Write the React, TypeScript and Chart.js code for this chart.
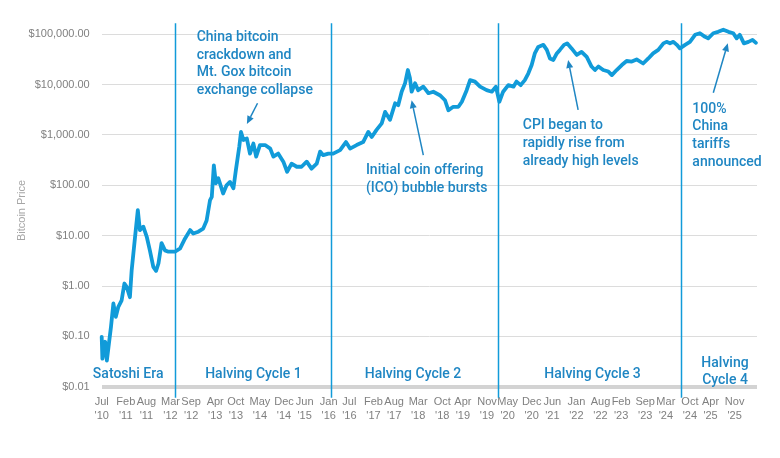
import { useEffect, useRef } from 'react';
import { Chart, registerables } from 'chart.js';

Chart.register(...registerables);

// Months elapsed since July 2010 for each sampled closing price.
const monthOffsets = [
  0, 0.2, 1.0, 1.5, 2.1, 2.7, 3.4, 4.1, 4.8, 5.8, 6.6, 7.3, 8.2, 8.7, 9.7, 10.5, 11.1, 12.1, 13.1, 14.0,
  15.0, 15.8, 16.5, 17.4, 18.4, 19.4, 21.3, 22.8, 24.2, 25.7, 26.6, 28.1, 29.5, 30.5, 31.0, 31.5, 32.0, 32.6,
  33.2, 33.9, 35.3, 36.3, 37.3, 38.3, 39.0, 40.0, 40.5, 41.2, 42.2, 43.1, 44.1, 44.9, 46.0, 47.5, 49.0, 49.9,
  51.3, 52.8, 53.9, 55.2, 56.7, 58.1, 59.6, 61.0, 62.5, 63.5, 64.4, 65.9, 67.3, 69.3, 71.0, 72.2, 74.1, 76.0,
  77.5, 78.5, 79.9, 81.4, 82.4, 83.8, 85.3, 86.2, 87.2, 88.2, 89.0, 89.6, 90.1, 91.1, 92.0, 93.5, 95.0, 96.4,
  98.3, 99.8, 100.8, 102.2, 103.7, 104.7, 106.1, 107.1, 108.5, 110.0, 111.9, 113.4, 114.6, 115.6, 116.7, 118.2,
  119.7, 120.6, 121.8, 123.0, 124.0, 125.0, 125.9, 126.9, 128.4, 129.4, 130.3, 131.3, 132.3, 133.2, 134.4,
  135.3, 136.6, 138.1, 139.5, 141.0, 142.4, 143.4, 144.4, 145.8, 147.3, 148.3, 149.7, 151.2, 152.6, 154.1,
  155.5, 157.4, 158.9, 160.3, 161.8, 163.3, 164.2, 165.2, 166.2, 167.2, 168.1, 169.6, 171.0, 172.5, 173.9,
  175.4, 176.3, 177.8, 179.2, 180.7, 182.2, 183.6, 184.6, 185.5, 186.7, 188.0, 189.2, 190.2,
];

// Bitcoin price in US dollars at each sampled month.
const pricesUsd = [
  0.098, 0.036, 0.078, 0.033, 0.072, 0.155, 0.45, 0.245, 0.38, 0.52, 1.12, 0.95, 0.6, 2.0, 9.5, 32, 12.9, 15.1, 9.5, 5.1,
  2.4, 2.0, 2.8, 7.1, 5.1, 4.8, 4.8, 5.6, 8.7, 12.9, 11.0, 12.0, 13.8, 20, 32, 51, 59, 250,
  110, 138, 69, 100, 117, 87, 200, 590, 1150, 794, 851, 427, 676, 372, 631, 631, 537, 372,
  427, 295, 186, 269, 234, 234, 295, 214, 269, 468, 398, 427, 427, 501, 724, 537, 631, 724,
  1150, 912, 1260, 1700, 2880, 2000, 4270, 3890, 7240, 10700, 19500, 13500, 7240, 10700, 7760, 9120, 6760, 7240,
  6170, 4900, 3090, 3630, 3630, 4570, 7760, 12300, 11500, 9120, 7760, 7240, 9120, 4570, 7240, 9770,
  9120, 11500, 9770, 12300, 16600, 24500, 41700, 56200, 61700, 49000, 33100, 30900, 41700, 49000, 61700,
  66100, 52500, 38900, 44700, 35500, 22900, 19500, 22900, 19500, 18200, 15500, 19500, 24500, 29500, 28800,
  31600, 26300, 33100, 41700, 49000, 66100, 70800, 66100, 70800, 61700, 52500, 61700, 70800, 97700, 105000,
  89100, 83200, 105000, 112000, 123000, 112000, 105000, 83200, 97700, 66100, 70800, 77600, 67600,
];

// Date axis labels and where they fall, in months since July 2010.
const tickMonths = [
  0, 7, 13, 20, 26, 33, 39, 46, 53, 59, 66, 72, 79, 85, 92, 99, 105, 112, 118, 125, 131, 138, 145, 151, 158,
  164, 171, 177, 184,
];
const tickLabels = [
  "Jul '10", "Feb '11", "Aug '11", "Mar '12", "Sep '12", "Apr '13", "Oct '13", "May '14", "Dec '14", "Jun '15",
  "Jan '16", "Jul '16", "Feb '17", "Aug '17", "Mar '18", "Oct '18", "Apr '19", "Nov '19", "May '20", "Dec '20",
  "Jun '21", "Jan '22", "Aug '22", "Feb '23", "Sep '23", "Mar '24", "Oct '24", "Apr '25", "Nov '25",
];
const priceTicks = [0.01, 0.1, 1, 10, 100, 1000, 10000, 100000];
const axisEndMonth = 190.5;

// Halving-cycle boundaries and the era captions along the bottom.
const eraBoundaryMonths = [21.3, 66.7, 115.1, 168.4];
const eraNames = ['Satoshi Era', 'Halving Cycle 1', 'Halving Cycle 2', 'Halving Cycle 3', 'Halving\nCycle 4'];
const eraLabelMonths = [7.7, 44.1, 90.5, 142.7, 181.2];
const eraLabelPrices = [0.0178, 0.0178, 0.0178, 0.0178, 0.0295];

// Event call-outs: caption anchor (top-left) and arrow from/to, in chart values.
const eventTexts = [
  'China bitcoin\ncrackdown and\nMt. Gox bitcoin\nexchange collapse',
  'Initial coin offering\n(ICO) bubble bursts',
  'CPI began to\nrapidly rise from\nalready high levels',
  '100%\nChina\ntariffs\nannounced',
];
const eventTextMonths = [27.6, 76.8, 122.4, 171.7];
const eventTextPrices = [87000, 195, 1510, 3240];
const arrowFromMonths = [45.3, 93.5, 138.5, 177.8];
const arrowFromPrices = [4270, 398, 3160, 6920];
const arrowToMonths = [42.2, 90.1, 135.6, 182.0];
const arrowToPrices = [1660, 4900, 30900, 66100];

const LINE_BLUE = '#119bd9';
const TEXT_BLUE = '#1f86c3';
const CALLOUT_FONT = '500 14px Roboto, "Open Sans", sans-serif';
const CALLOUT_LINE_HEIGHT = 17.7;

const annotationPlugin = {
  id: 'cycleAnnotations',
  beforeDatasetsDraw(chart: any) {
    const { ctx, chartArea, scales } = chart;
    const x = scales.x;
    ctx.save();
    ctx.strokeStyle = LINE_BLUE;
    ctx.lineWidth = 1.5;
    eraBoundaryMonths.forEach((m) => {
      const px = Math.round(x.getPixelForValue(m)) + 0.5;
      ctx.beginPath();
      ctx.moveTo(px, chartArea.top - 11);
      ctx.lineTo(px, chartArea.bottom + 11);
      ctx.stroke();
    });
    ctx.restore();
  },
  afterDatasetsDraw(chart: any) {
    const { ctx, scales } = chart;
    const x = scales.x;
    const y = scales.y;
    ctx.save();
    ctx.font = CALLOUT_FONT;
    ctx.fillStyle = TEXT_BLUE;
    ctx.textBaseline = 'middle';

    // era captions
    ctx.textAlign = 'center';
    eraNames.forEach((name, i) => {
      const cx = x.getPixelForValue(eraLabelMonths[i]);
      const cy = y.getPixelForValue(eraLabelPrices[i]);
      name.split('\n').forEach((line, j) => {
        ctx.fillText(line, cx, cy + j * CALLOUT_LINE_HEIGHT);
      });
    });

    // event captions
    ctx.textAlign = 'left';
    eventTexts.forEach((text, i) => {
      const tx = x.getPixelForValue(eventTextMonths[i]);
      const ty = y.getPixelForValue(eventTextPrices[i]);
      text.split('\n').forEach((line, j) => {
        ctx.fillText(line, tx, ty + j * CALLOUT_LINE_HEIGHT);
      });
    });

    // arrows
    ctx.strokeStyle = TEXT_BLUE;
    ctx.lineWidth = 1.5;
    eventTexts.forEach((_, i) => {
      const x0 = x.getPixelForValue(arrowFromMonths[i]);
      const y0 = y.getPixelForValue(arrowFromPrices[i]);
      const x1 = x.getPixelForValue(arrowToMonths[i]);
      const y1 = y.getPixelForValue(arrowToPrices[i]);
      const ang = Math.atan2(y1 - y0, x1 - x0);
      const headLen = 8;
      const headHalf = 3.5;
      const bx = x1 - headLen * Math.cos(ang);
      const by = y1 - headLen * Math.sin(ang);
      ctx.beginPath();
      ctx.moveTo(x0, y0);
      ctx.lineTo(bx, by);
      ctx.stroke();
      ctx.beginPath();
      ctx.moveTo(x1, y1);
      ctx.lineTo(bx + headHalf * Math.sin(ang), by - headHalf * Math.cos(ang));
      ctx.lineTo(bx - headHalf * Math.sin(ang), by + headHalf * Math.cos(ang));
      ctx.closePath();
      ctx.fill();
    });
    ctx.restore();
  },
};

function formatPrice(v: number) {
  return '$' + v.toLocaleString('en-US', { minimumFractionDigits: 2, maximumFractionDigits: 2 });
}

export default function App() {
  const canvasRef = useRef<HTMLCanvasElement | null>(null);

  useEffect(() => {
    if (!canvasRef.current) return;
    const points = monthOffsets.map((m, i) => ({ x: m, y: pricesUsd[i] }));
    const chart = new Chart(canvasRef.current, {
      type: 'line',
      data: {
        datasets: [
          {
            label: 'Bitcoin Price',
            data: points,
            borderColor: LINE_BLUE,
            borderWidth: 3.8,
            pointRadius: 0,
            tension: 0,
            borderJoinStyle: 'round',
            borderCapStyle: 'round',
            clip: false,
          },
        ],
      },
      options: {
        animation: false,
        responsive: false,
        devicePixelRatio: 1,
        events: [],
        layout: { padding: { top: 34.3, right: 23, left: 0, bottom: 0 } },
        plugins: { legend: { display: false }, tooltip: { enabled: false } },
        scales: {
          x: {
            type: 'linear',
            min: 0,
            max: axisEndMonth,
            grid: { display: false },
            border: { display: false },
            afterBuildTicks: (scale: any) => {
              scale.ticks = tickMonths.map((v) => ({ value: v }));
            },
            afterFit: (scale: any) => {
              scale.height = 71.3;
            },
            ticks: {
              autoSkip: false,
              maxRotation: 0,
              minRotation: 0,
              padding: 1,
              color: '#808080',
              font: { family: '"Liberation Sans", Arial, sans-serif', size: 11, lineHeight: 1.2 },
              callback: (value: any) => {
                const idx = tickMonths.indexOf(Number(value));
                return idx >= 0 ? tickLabels[idx].split(' ') : '';
              },
            },
          },
          y: {
            type: 'logarithmic',
            min: 0.01,
            max: 100000,
            border: { display: false },
            grid: {
              drawTicks: false,
              color: (c: any) => (c.tick && c.tick.value === 0.01 ? '#d3d3d3' : '#dcdcdc'),
              lineWidth: (c: any) => (c.tick && c.tick.value === 0.01 ? 4 : 1),
            },
            afterBuildTicks: (scale: any) => {
              scale.ticks = priceTicks.map((v) => ({ value: v }));
            },
            afterFit: (scale: any) => {
              scale.width = 101.7;
            },
            ticks: {
              padding: 12,
              color: '#808080',
              font: { family: '"Liberation Sans", Arial, sans-serif', size: 11 },
              callback: (value: any) => formatPrice(Number(value)),
            },
            title: {
              display: true,
              text: 'Bitcoin Price',
              color: '#a6a6a6',
              padding: { top: 15, bottom: 0 },
              font: { family: '"Liberation Sans", Arial, sans-serif', size: 11 },
            },
          },
        },
      },
      plugins: [annotationPlugin],
    });
    return () => chart.destroy();
  }, []);

  return (
    <div style={{ position: 'absolute', left: 0, top: 0, width: 780, height: 458, background: '#ffffff' }}>
      <canvas ref={canvasRef} width={780} height={458} style={{ width: 780, height: 458, display: 'block' }} />
    </div>
  );
}
